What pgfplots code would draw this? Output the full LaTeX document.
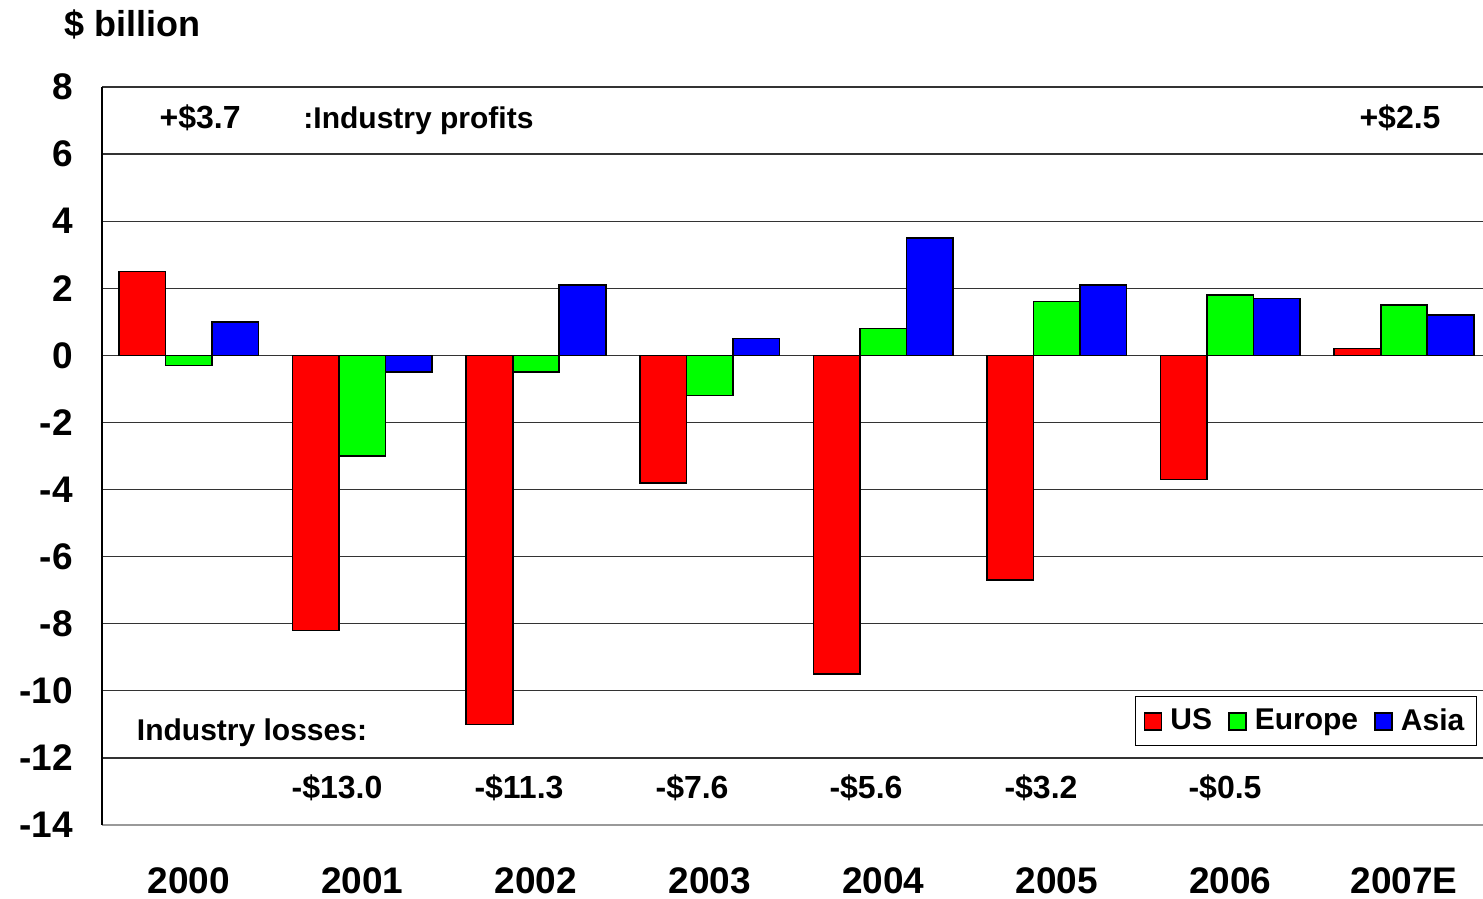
\documentclass[border=0pt]{standalone}
\usepackage{pgfplots}
\pgfplotsset{compat=1.18}
\usepackage{fontspec}
\setmainfont{Liberation Sans}
\definecolor{cUS}{RGB}{255,0,0}
\definecolor{cEU}{RGB}{0,255,0}
\definecolor{cAS}{RGB}{0,0,255}
\begin{document}
\begin{tikzpicture}
\path[use as bounding box] (0,0) rectangle (741.5pt,449.5pt);
\begin{axis}[
  at={(51pt,37pt)}, anchor=south west,
  width=694.4pt, height=369pt, scale only axis,
  xmin=-0.5, xmax=7.5, ymin=-14, ymax=8,
  ybar=0pt, bar width=23.25pt,
  xtick={0,1,2,3,4,5,6,7},
  xticklabels={2000,2001,2002,2003,2004,2005,2006,2007E},
  ytick={-14,-12,...,8},
  axis x line=bottom, axis y line=left,
  x axis line style={-, draw=gray!80, line width=1pt},
  y axis line style={-, draw=black, line width=1pt},
  tick style={draw=none},
  ymajorgrids, grid style={draw=black!80, line width=0.6pt},
  /pgf/number format/assume math mode=true,
  tick label style={font=\bfseries\fontsize{18.5}{18.5}\selectfont},
  xticklabel style={yshift=-15.5pt},
  yticklabel style={xshift=-9pt},
  legend style={at={(rel axis cs:0.990,0.175)}, anchor=north east,
    draw=black, line width=0.6pt, font=\bfseries\fontsize{15}{15}\selectfont,
    inner sep=4pt, /tikz/every even column/.append style={column sep=6pt}},
  legend columns=-1,
  legend image code/.code={\draw[#1, line width=0.8pt] (0pt,-4.5pt) rectangle (8.5pt,4pt); \path[draw=none,fill=none] (0pt,0pt) -- (11pt,0pt);},
  every axis plot/.append style={draw=black, line width=0.8pt},
  clip=false,
]
\addplot[fill=cUS] coordinates {(0,2.5) (1,-8.2) (2,-11.0) (3,-3.8) (4,-9.5) (5,-6.7) (6,-3.7) (7,0.2)};
\addplot[fill=cEU] coordinates {(0,-0.3) (1,-3.0) (2,-0.5) (3,-1.2) (4,0.8) (5,1.6) (6,1.8) (7,1.5)};
\addplot[fill=cAS] coordinates {(0,1.0) (1,-0.5) (2,2.1) (3,0.5) (4,3.5) (5,2.1) (6,1.7) (7,1.2)};
\legend{US,Europe,Asia}
\begin{scope}[every node/.style={font=\bfseries\fontsize{16}{16}\selectfont}]
\node[anchor=base] at (axis cs:0.065,6.77) {+\$3.7};
\node[anchor=base west, font=\bfseries\fontsize{15}{15}\selectfont] at (axis cs:0.62,6.77) {:Industry profits};
\node[anchor=base] at (axis cs:6.977,6.77) {+\$2.5};
\node[anchor=base, font=\bfseries\fontsize{15}{15}\selectfont] at (axis cs:0.364,-11.48) {Industry losses:};
\node[anchor=base] at (axis cs:0.854,-13.2) {-\$13.0};
\node[anchor=base] at (axis cs:1.902,-13.2) {-\$11.3};
\node[anchor=base] at (axis cs:2.899,-13.2) {-\$7.6};
\node[anchor=base] at (axis cs:3.901,-13.2) {-\$5.6};
\node[anchor=base] at (axis cs:4.909,-13.2) {-\$3.2};
\node[anchor=base] at (axis cs:5.969,-13.2) {-\$0.5};
\end{scope}
\node[anchor=west, font=\bfseries\fontsize{18}{18}\selectfont] at (rel axis cs:-0.032,1.085) {\$ billion};
\end{axis}
\end{tikzpicture}
\end{document}
